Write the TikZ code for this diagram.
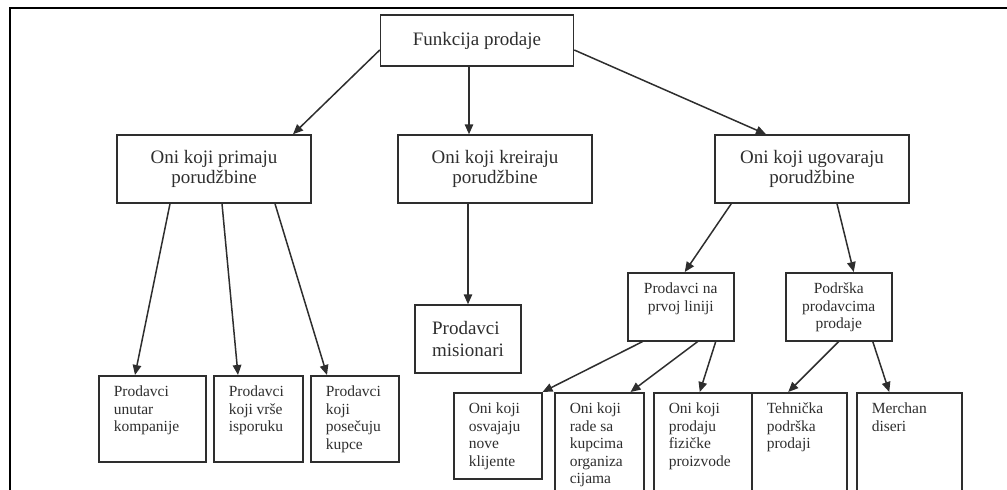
\documentclass[tikz,border=0pt]{standalone}
\usepackage{fontspec}
\setmainfont{Liberation Serif}
\usetikzlibrary{arrows.meta}

\newcommand{\bigtxt}{\fontsize{19}{19.5}\selectfont}
\newcommand{\smalltxt}{\fontsize{15.5}{17.5}\selectfont}

\begin{document}
\begin{tikzpicture}[x=1pt, y=-1pt,
        box/.style={draw, rectangle, minimum width=194, minimum height=68, align=center, font=\bigtxt},
        cell/.style 2 args={draw, rectangle, anchor=north west, minimum width=#1, minimum height=#2, inner sep=0pt},
        lefttext/.style={anchor=north west, align=left, inner sep=0pt, xshift=15pt, yshift=-10pt, font=\smalltxt},
        midtext/.style={anchor=north, align=center, inner sep=0pt, yshift=-10pt, font=\smalltxt},
        >={Triangle[length=10pt, width=8.5pt]}, line width=1.5pt, color=black!82]

        \useasboundingbox (0,0) rectangle (1007,490);
        \clip (0,0) rectangle (1007,490);

        % Okvir
        \draw[line width=2.4pt, color=black] (10,490) -- (10,8) -- (1007,8);

        % Čvorovi
        \node (fp) [box, minimum width=193, minimum height=51] at (477,40.5) {Funkcija prodaje};
        \node (prim) [box] at (214,169) {Oni koji primaju\\porudžbine};
        \node (kre) [box] at (495,169) {Oni koji kreiraju\\porudžbine};
        \node (ugo) [box] at (812,169) {Oni koji ugovaraju\\porudžbine};

        \node (mis) [box, minimum width=106, minimum height=68, align=left, font=\fontsize{19}{22}\selectfont] at (468,339) {Prodavci\\misionari};
        \node (prvoj) [cell={106}{68}, label={[midtext]north:Prodavci na\\prvoj liniji}] at (627,272) {};
        \node (podr) [cell={106}{68}, label={[midtext]north:Podrška\\prodavcima\\prodaje}] at (785,272) {};

        % Listovi
        \node (unutar) [cell={107}{86}, label={[lefttext]north west:Prodavci\\unutar\\kompanije}] at (98,375) {};
        \node (vrse) [cell={89}{86}, label={[lefttext]north west:Prodavci\\koji vrše\\isporuku}] at (213,375) {};
        \node (posec) [cell={88}{86}, label={[lefttext]north west:Prodavci\\koji\\posečuju\\kupce}] at (310,375) {};
        \node (osv) [cell={88}{86}, label={[lefttext]north west:Oni koji\\osvajaju\\nove\\klijente}] at (453,392) {};
        \node (rade) [cell={89}{108}, label={[lefttext]north west:Oni koji\\rade sa\\kupcima\\organiza\\cijama}] at (554,392) {};
        \node (fiz) [cell={98}{108}, label={[lefttext]north west:Oni koji\\prodaju\\fizičke\\proizvode}] at (653,392) {};
        \node (teh) [cell={95}{108}, label={[lefttext]north west:Tehnička\\podrška\\prodaji}] at (751,392) {};
        \node (mer) [cell={105}{108}, label={[lefttext]north west:Merchan\\diseri}] at (856,392) {};

        % Veze
        \draw[->] ([yshift=-9.5pt]fp.west) -- ([xshift=79pt]prim.north);
        \draw[->] ([xshift=-8pt]fp.south) -- ([xshift=-8pt]fp.south |- kre.north);
        \draw[->] ([yshift=-9.5pt]fp.east) -- ([xshift=-46pt]ugo.north);

        \draw[->] ([xshift=-44pt]prim.south) -- ([xshift=37pt]unutar.north west);
        \draw[->] ([xshift=8pt]prim.south) -- ([xshift=25pt]vrse.north west);
        \draw[->] ([xshift=61pt]prim.south) -- ([xshift=17pt]posec.north west);

        \draw[->] (mis.north |- kre.south) -- (mis.north);

        \draw[->] ([xshift=17pt]ugo.south west) -- ([xshift=4pt]prvoj.north);
        \draw[->] ([xshift=25pt]ugo.south) -- ([xshift=15pt]podr.north);

        \draw[->] ([xshift=-38pt]prvoj.south) -- (osv.north east);
        \draw[->] ([xshift=17pt]prvoj.south) -- ([xshift=-14pt]rade.north east);
        \draw[->] ([xshift=35pt]prvoj.south) -- ([xshift=-3pt]fiz.north);
        \draw[->] (podr.south) -- ([xshift=-11pt]teh.north);
        \draw[->] ([xshift=34pt]podr.south) -- ([xshift=-20pt]mer.north);

\end{tikzpicture}
\end{document}
